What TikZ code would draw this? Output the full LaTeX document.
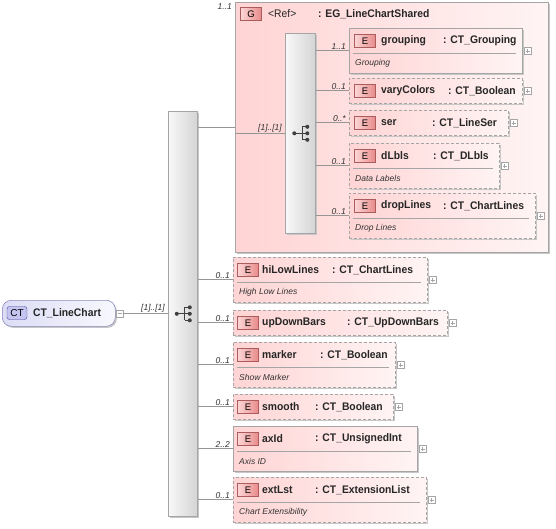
\documentclass[tikz,border=0pt]{standalone}
\usepackage{fontspec}
\setmainfont{Liberation Sans}
\newfontfamily\namefont{Liberation Sans}[FakeStretch=0.94]
\usetikzlibrary{shadows}

\definecolor{boxgray}{RGB}{165,165,165}
\definecolor{linegray}{RGB}{150,150,150}
\definecolor{pinkL}{RGB}{255,212,212}
\definecolor{pinkR}{RGB}{255,244,244}
\definecolor{badgeL}{RGB}{252,214,214}
\definecolor{badgeR}{RGB}{232,138,138}
\definecolor{badgeedge}{RGB}{172,92,92}
\definecolor{barL}{RGB}{248,248,248}
\definecolor{barR}{RGB}{212,212,212}
\definecolor{ctL}{RGB}{220,220,246}
\definecolor{ctR}{RGB}{248,248,254}
\definecolor{ctedge}{RGB}{140,140,190}
\definecolor{ctbadge}{RGB}{196,196,240}
\definecolor{ctbadgeedge}{RGB}{70,70,150}

\begin{document}
\begin{tikzpicture}[x=1pt, y=-1pt,
  shade/.style={drop shadow={shadow xshift=1.5pt, shadow yshift=-1.5pt, fill=black!22, opacity=1}},
  box/.style={draw=boxgray, line width=0.6pt, left color=pinkL, right color=pinkR,
    inner sep=0pt, anchor=north west, shade},
  optbox/.style={box, dash pattern=on 3pt off 2pt},
  bar/.style={draw=boxgray, line width=0.6pt, left color=barL, right color=barR,
    inner sep=0pt, anchor=north west, shade},
  badge/.style={draw=badgeedge, line width=0.6pt, left color=badgeL, right color=badgeR,
    minimum width=21, minimum height=13, inner sep=0pt, font=\fontsize{9.5}{9.5}\selectfont},
  ename/.style={anchor=west, inner sep=0pt, font=\namefont\bfseries\fontsize{11}{12}\selectfont, text=black!85},
  eref/.style={anchor=west, inner sep=0pt, font=\namefont\fontsize{11}{12}\selectfont, text=black!85},
  edesc/.style={anchor=west, inner sep=0pt, font=\itshape\fontsize{8.5}{9}\selectfont, text=black!80},
  mult/.style={anchor=south east, inner sep=1pt, font=\itshape\fontsize{8.5}{9}\selectfont, text=black!80},
  conn/.style={draw=linegray, line width=0.7pt},
  sepline/.style={draw=boxgray, line width=0.6pt},
  plus/.style={draw=boxgray, fill=white, line width=0.5pt, minimum size=7, inner sep=0pt,
    path picture={\draw[boxgray, line width=0.5pt]
      ([xshift=1.5pt]path picture bounding box.west) -- ([xshift=-1.5pt]path picture bounding box.east)
      ([yshift=1.5pt]path picture bounding box.south) -- ([yshift=-1.5pt]path picture bounding box.north);}},
  minus/.style={draw=boxgray, fill=white, line width=0.5pt, minimum size=7, inner sep=0pt,
    path picture={\draw[boxgray, line width=0.5pt]
      ([xshift=1.5pt]path picture bounding box.west) -- ([xshift=-1.5pt]path picture bounding box.east);}},
  seqicon/.pic={
    \draw[black!75, line width=0.8pt] (-6,0) -- (2,0) (2,-6.5) -- (2,6.5)
      (2,-6.5) -- (7,-6.5) (2,6.5) -- (7,6.5) (2,0) -- (7,0);
    \fill[black!75] (-6,0) circle[radius=2];
    \foreach \dy in {-6.5,0,6.5} \fill[black!75] (7,\dy) circle[radius=2];
  }
]
\useasboundingbox (0,0) rectangle (556,529);

% complex type
\node[draw=ctedge, line width=0.6pt, rounded corners=9pt, left color=ctL, right color=ctR,
  minimum width=113, minimum height=26, inner sep=0pt, anchor=north west, shade] (ct) at (2,300) {};
\node[draw=ctbadgeedge, fill=ctbadge, rounded corners=2.5pt, minimum width=20, minimum height=13,
  inner sep=0pt, font=\fontsize{10}{10}\selectfont] (ct-badge) at ([shift={(15,13)}]ct.north west) {CT};
\node[ename] (ct-name) at ([shift={(31,13)}]ct.north west) {CT\_LineChart};
\node[minus] (ct-minus) at ([xshift=4]ct.east) {};

% main sequence
\node[bar, minimum width=29, minimum height=405] (mbar) at (168,111) {};
\pic at (mbar.center) {seqicon};
\draw[conn] (ct-minus.east) -- (ct-minus.east -| mbar.west);
\node[mult] (mbar-mult) at ([xshift=-2]mbar.west) {[1]..[1]};

% group
\node[box, minimum width=313, minimum height=250] (grp) at (235,2) {};
\draw[conn] (mbar.east |- grp.west) -- (grp.west);
\node[mult, anchor=north east] (grp-mult) at ([xshift=-2]grp.north west) {1..1};
\node[badge] (grp-badge) at ([shift={(16,12)}]grp.north west) {G};
\node[eref] (grp-name) at ([shift={(33,12)}]grp.north west) {<Ref>};
\node[ename] (grp-type) at ([shift={(83,12)}]grp.north west) {: EG\_LineChartShared};

% inner sequence
\node[bar, minimum width=30, minimum height=200] (ibar) at (285,33) {};
\pic at (ibar.center) {seqicon};
\draw[conn] (grp.west |- ibar.west) -- (ibar.west);
\node[mult] (ibar-mult) at ([xshift=-2]ibar.west) {[1]..[1]};

\foreach \nd/\yy/\bw/\bh/\bs/\mlt/\lab/\typ/\toff/\dsc in {
  grouping/28/173/45/box/1..1/grouping/CT\_Grouping/94/Grouping,
  varyColors/78/173/25/optbox/0..1/varyColors/CT\_Boolean/99/-,
  ser/110/159/25/optbox/0..*/ser/CT\_LineSer/83/-,
  dLbls/143/150/45/optbox/0..1/dLbls/CT\_DLbls/84/Data Labels,
  dropLines/193/186/45/optbox/0..1/dropLines/CT\_ChartLines/94/Drop Lines}{
  \node[\bs, minimum width=\bw, minimum height=\bh] (\nd) at (349,\yy) {};
  \draw[conn] (ibar.east |- \nd.west) -- (\nd.west);
  \node[mult] (\nd-mult) at ([xshift=-2]\nd.west) {\mlt};
  \node[badge] (\nd-badge) at ([shift={(16,13)}]\nd.north west) {E};
  \node[ename] (\nd-name) at ([shift={(32,13)}]\nd.north west) {\lab};
  \node[ename] (\nd-type) at ([shift={(\toff,13)}]\nd.north west) {: \typ};
  \node[plus] (\nd-plus) at ([xshift=5]\nd.east) {};
  \ifdim\bh pt>30pt
    \draw[sepline] ([shift={(4,25)}]\nd.north west) -- ([shift={(-7,25)}]\nd.north east);
    \node[edesc] (\nd-desc) at ([shift={(6,35)}]\nd.north west) {\dsc};
  \fi
}

\foreach \nd/\yy/\bw/\bh/\bs/\mlt/\lab/\typ/\toff/\dsc in {
  hiLowLines/257/194/45/optbox/0..1/hiLowLines/CT\_ChartLines/99/High Low Lines,
  upDownBars/310/214/25/optbox/0..1/upDownBars/CT\_UpDownBars/114/-,
  marker/342/162/45/optbox/0..1/marker/CT\_Boolean/87/Show Marker,
  smooth/394/160/25/optbox/0..1/smooth/CT\_Boolean/82/-,
  axId/426/184/45/box/2..2/axId/CT\_UnsignedInt/82/Axis ID,
  extLst/477/193/45/optbox/0..1/extLst/CT\_ExtensionList/82/Chart Extensibility}{
  \node[\bs, minimum width=\bw, minimum height=\bh] (\nd) at (233,\yy) {};
  \draw[conn] (mbar.east |- \nd.west) -- (\nd.west);
  \node[mult] (\nd-mult) at ([xshift=-2]\nd.west) {\mlt};
  \node[badge] (\nd-badge) at ([shift={(15,13)}]\nd.north west) {E};
  \node[ename] (\nd-name) at ([shift={(29,13)}]\nd.north west) {\lab};
  \node[ename] (\nd-type) at ([shift={(\toff,13)}]\nd.north west) {: \typ};
  \node[plus] (\nd-plus) at ([xshift=5]\nd.east) {};
  \ifdim\bh pt>30pt
    \draw[sepline] ([shift={(4,25)}]\nd.north west) -- ([shift={(-7,25)}]\nd.north east);
    \node[edesc] (\nd-desc) at ([shift={(6,35)}]\nd.north west) {\dsc};
  \fi
}
\end{tikzpicture}
\end{document}
